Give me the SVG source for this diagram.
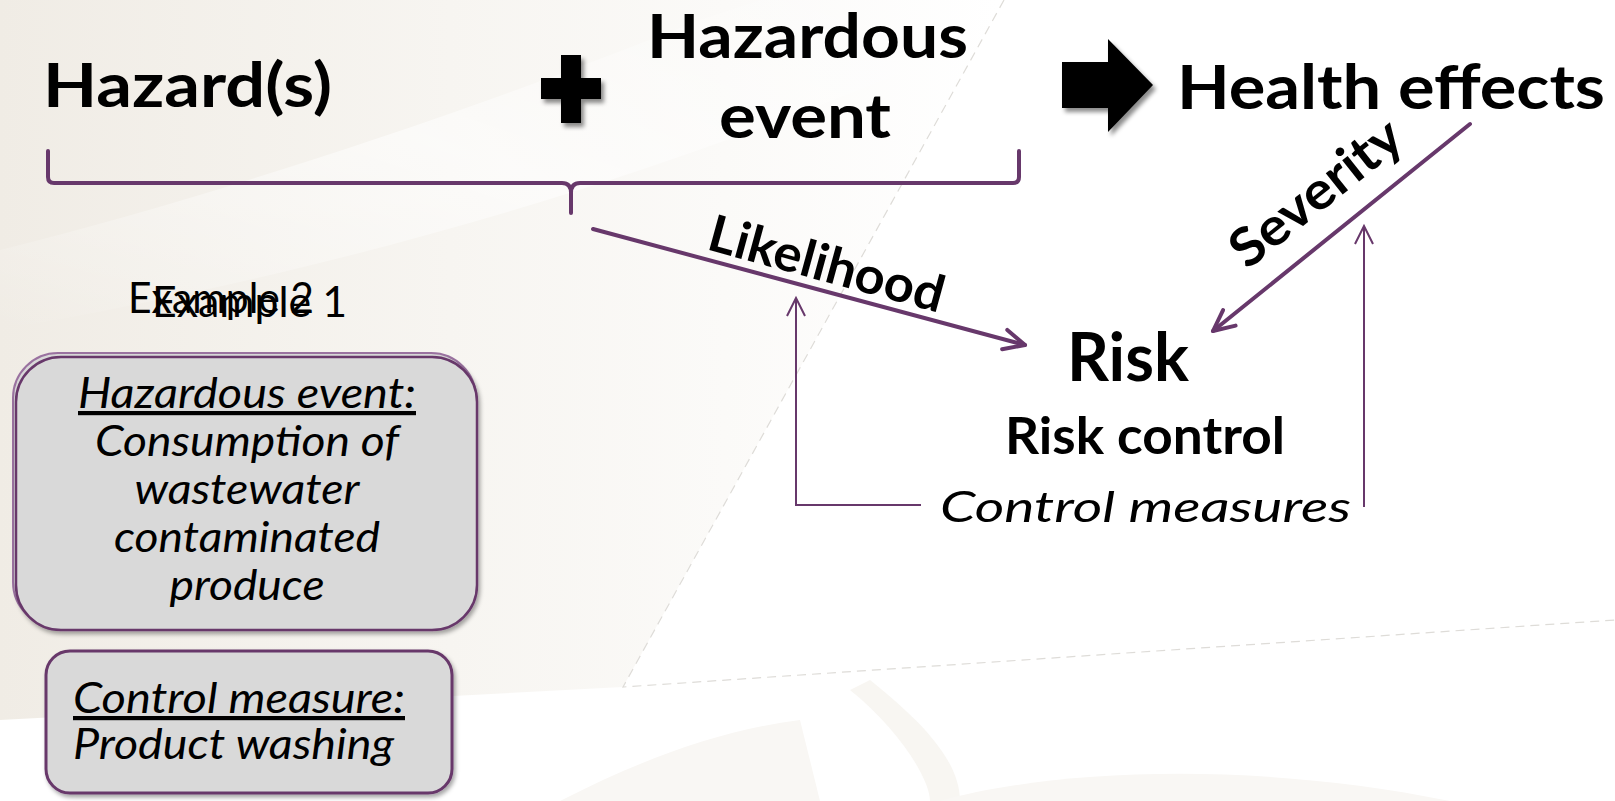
<svg xmlns="http://www.w3.org/2000/svg" width="1615" height="801" viewBox="0 0 1615 801">
<defs>
<style>
.hdr{font-family:Lato,"Liberation Sans",sans-serif;font-weight:700;font-size:62px;fill:#000}
.lbl{font-family:Lato,"Liberation Sans",sans-serif;font-weight:700;fill:#000}
.ital{font-family:Lato,"Liberation Sans",sans-serif;font-style:italic;font-size:42px;fill:#000}
.ex{font-family:Lato,"Liberation Sans",sans-serif;font-size:42px;fill:#000}
.thick{fill:none;stroke:#67386b;stroke-width:4;stroke-linecap:round}
.thin{fill:none;stroke:#67386b;stroke-width:2}
.dash{fill:none;stroke:#dedcd8;stroke-width:1.2;stroke-dasharray:9 6}
</style>
<linearGradient id="bg" gradientUnits="userSpaceOnUse" x1="0" y1="0" x2="1000" y2="0">
<stop offset="0" stop-color="#f0ece5"/>
<stop offset="0.45" stop-color="#f7f5f1"/>
<stop offset="1" stop-color="#ffffff"/>
</linearGradient>
<linearGradient id="streak" x1="0" y1="1" x2="1" y2="0">
<stop offset="0" stop-color="#ffffff" stop-opacity="0"/>
<stop offset="0.5" stop-color="#ffffff" stop-opacity="0.8"/>
<stop offset="1" stop-color="#ffffff" stop-opacity="0"/>
</linearGradient>
<filter id="sh" x="-20%" y="-20%" width="150%" height="150%">
<feDropShadow dx="3" dy="4" stdDeviation="2" flood-color="#000" flood-opacity="0.45"/>
</filter>
<filter id="bsh" x="-10%" y="-10%" width="130%" height="130%">
<feDropShadow dx="2" dy="3" stdDeviation="2" flood-color="#000" flood-opacity="0.35"/>
</filter>
<marker id="ah" markerUnits="userSpaceOnUse" markerWidth="30" markerHeight="30" viewBox="-26 -15 30 30" refX="0" refY="0" orient="auto">
<path d="M-21,-10 L0,0 L-21,10" fill="none" stroke="#67386b" stroke-width="4" stroke-linecap="round" stroke-linejoin="round"/>
</marker>
<marker id="aht" markerUnits="userSpaceOnUse" markerWidth="24" markerHeight="24" viewBox="-20 -12 24 24" refX="0" refY="0" orient="auto">
<path d="M-18,-9 L0,0 L-18,9" fill="none" stroke="#67386b" stroke-width="2"/>
</marker>
</defs>

<g id="background">
<rect x="0" y="0" width="1615" height="801" fill="#ffffff"/>
<path d="M0,0 H1004 L623,687 L0,720 Z" fill="url(#bg)"/>
<path d="M0,250 C200,200 450,120 700,20 L760,0 L1004,0 L980,40 C700,160 400,260 0,330 Z" fill="url(#streak)" opacity="0.7"/>
<path d="M850,690 C900,730 930,780 930,801 L960,801 C960,760 920,720 870,680 Z" fill="#f8f6f2"/>
<path d="M560,801 C640,760 720,730 800,720 L820,801 Z" fill="#f9f7f4"/>
<path d="M940,801 C1050,770 1250,760 1450,801 Z" fill="#f9f7f4"/>
<path class="dash" d="M1004,0 L623,687 L1615,620"/>
</g>

<g id="hazards">
<text class="hdr" x="43" y="107" textLength="289" lengthAdjust="spacingAndGlyphs">Hazard(s)</text>
</g>

<g id="plus">
<path d="M561,55 H581 V78 H601 V99 H581 V123 H561 V99 H541 V78 H561 Z" fill="#000" filter="url(#sh)"/>
</g>

<g id="hazardous-event">
<text class="hdr" x="647" y="58" textLength="321" lengthAdjust="spacingAndGlyphs">Hazardous</text>
<text class="hdr" x="719" y="138" textLength="172" lengthAdjust="spacingAndGlyphs">event</text>
</g>

<g id="block-arrow">
<path d="M1062,62 H1108 V39 L1153,85 L1108,132 V108 H1062 Z" fill="#000" filter="url(#sh)"/>
</g>

<g id="health-effects">
<text class="hdr" x="1177" y="109" textLength="428" lengthAdjust="spacingAndGlyphs">Health effects</text>
</g>

<g id="risk">
<text class="lbl" x="1067" y="381" font-size="66" textLength="122" lengthAdjust="spacingAndGlyphs">Risk</text>
</g>

<g id="risk-control">
<text class="lbl" x="1005" y="454" font-size="52" textLength="280" lengthAdjust="spacingAndGlyphs">Risk control</text>
</g>

<g id="control-measures">
<text class="ital" x="940" y="522" font-size="52" textLength="411" lengthAdjust="spacingAndGlyphs">Control measures</text>
</g>

<g id="connectors">
<path class="thick" d="M48,151 V177 Q48,183 54,183 H562 Q571,183 571,193 V213 M571,193 Q571,183 580,183 H1013 Q1019,183 1019,177 V151"/>
<line class="thick" x1="593" y1="229" x2="1025" y2="345" marker-end="url(#ah)"/>
<line class="thick" x1="1470" y1="124" x2="1213" y2="331" marker-end="url(#ah)"/>
<path class="thin" d="M921,505 H796 V298" marker-end="url(#aht)"/>
<path class="thin" d="M1364,507 V226" marker-end="url(#aht)"/>
<text class="lbl" font-size="51" text-anchor="middle" textLength="242" lengthAdjust="spacingAndGlyphs" transform="translate(822,281) rotate(15.3)">Likelihood</text>
<text class="lbl" font-size="53" text-anchor="middle" textLength="204" lengthAdjust="spacingAndGlyphs" transform="translate(1327,207) rotate(-38.5)">Severity</text>
</g>

<g id="example-labels">
<text class="ex" x="128" y="313" textLength="186" lengthAdjust="spacingAndGlyphs">Example 2</text>
<text class="ex" x="152" y="317" textLength="195" lengthAdjust="spacingAndGlyphs">Example 1</text>
</g>

<g id="box-hazardous-event">
<rect x="13" y="353" width="463" height="274" rx="45" fill="#d9d9d9" stroke="#9a72a0" stroke-width="2"/>
<rect x="16" y="357" width="461" height="273" rx="45" fill="#d9d9d9" stroke="#67386b" stroke-width="2.5" filter="url(#bsh)"/>
<text class="ital" x="247" y="408" text-anchor="middle" textLength="338" lengthAdjust="spacingAndGlyphs" text-decoration="underline">Hazardous event:</text>
<text class="ital" x="247" y="456" text-anchor="middle" textLength="304" lengthAdjust="spacingAndGlyphs">Consumption of</text>
<text class="ital" x="247" y="504" text-anchor="middle" textLength="225" lengthAdjust="spacingAndGlyphs">wastewater</text>
<text class="ital" x="247" y="552" text-anchor="middle" textLength="266" lengthAdjust="spacingAndGlyphs">contaminated</text>
<text class="ital" x="247" y="600" text-anchor="middle" textLength="155" lengthAdjust="spacingAndGlyphs">produce</text>
</g>

<g id="box-control-measure">
<rect x="46" y="651" width="406" height="142" rx="24" fill="#d9d9d9" stroke="#67386b" stroke-width="3" filter="url(#bsh)"/>
<text class="ital" x="73" y="713" textLength="332" lengthAdjust="spacingAndGlyphs" text-decoration="underline">Control measure:</text>
<text class="ital" x="73" y="759" textLength="321" lengthAdjust="spacingAndGlyphs">Product washing</text>
</g>
</svg>
